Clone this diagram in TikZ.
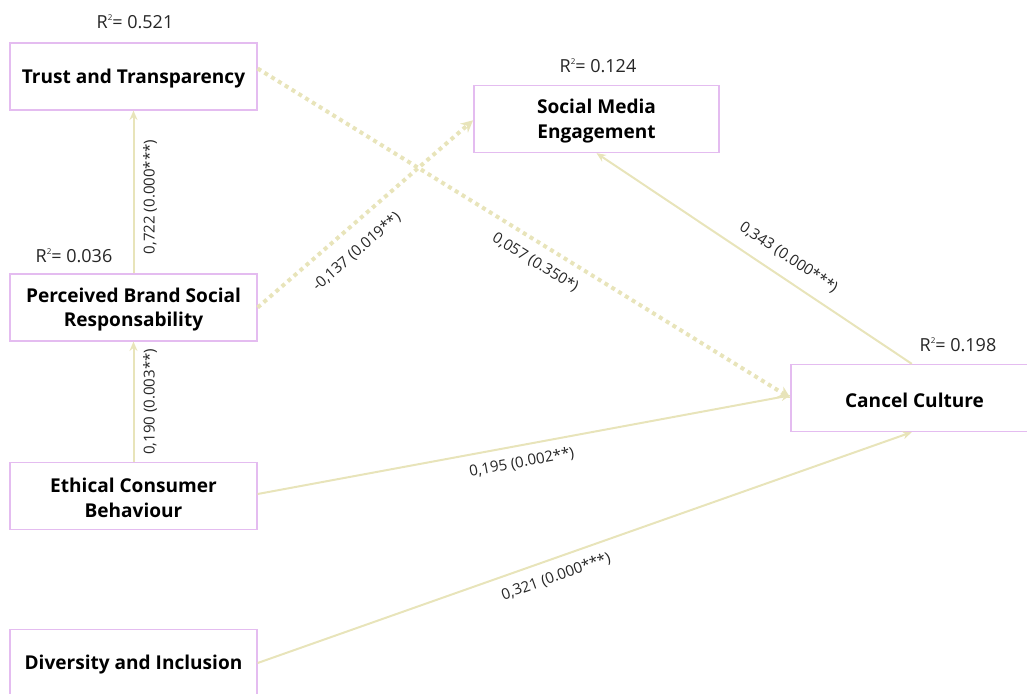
\documentclass[tikz,border=0pt]{standalone}
\usepackage{fontspec}
\setmainfont{Open Sans}
\usetikzlibrary{arrows.meta}
\definecolor{boxc}{RGB}{228,188,240}
\definecolor{linec}{RGB}{232,228,186}
\newcommand{\rsq}[1]{R\raisebox{0.8ex}{\fontsize{6pt}{6pt}\selectfont 2}= #1}
\begin{document}
\begin{tikzpicture}[x=0.75pt,y=-0.75pt,
  construct/.style={draw=boxc, line width=1.2pt, minimum width=185pt, minimum height=50pt},
  ntext/.style={align=center, inner sep=0pt, yshift=-1.5pt, font=\bfseries\fontsize{14.3}{18.5}\selectfont},
  rlab/.style={font=\fontsize{13.5}{15}\selectfont, text=black!85},
  lab/.style={font=\fontsize{11.3}{13}\selectfont, text=black!85, sloped, inner sep=3.5pt},
  solidarrow/.style={draw=linec, line width=1.5pt, -{Stealth[length=7pt,width=6pt]}},
  dotarrow/.style={draw=linec, line width=3pt, dash pattern=on 3pt off 3pt, -{Stealth[length=9pt,width=9pt]}}
]
\useasboundingbox (0,0) rectangle (1027,693);
\node[construct, label={[ntext]center:{Trust and Transparency}}] (tt) at (133.5,76.5) {};
\node[construct, label={[ntext]center:{Perceived Brand Social\\Responsability}}] (pbsr) at (133.5,307.5) {};
\node[construct, label={[ntext]center:{Ethical Consumer\\Behaviour}}] (ecb) at (133.5,496) {};
\node[construct, label={[ntext]center:{Diversity and Inclusion}}] (di) at (133.5,663) {};
\node[construct, minimum width=184pt, label={[ntext]center:{Social Media\\Engagement}}] (sme) at (596.5,119) {};
\node[construct, label={[ntext]center:{Cancel Culture}}] (cc) at (914.5,398) {};

\node[rlab] (r1) at (135,22) {\rsq{0.521}};
\node[rlab] (r2) at (598,66) {\rsq{0.124}};
\node[rlab] (r3) at (74,256) {\rsq{0.036}};
\node[rlab] (r4) at (958,345) {\rsq{0.198}};

\draw[solidarrow] (pbsr.north) -- (tt.south) node[lab, below=3pt, pos=0.47] {0,722 (0.000***)};
\draw[solidarrow] (ecb.north) -- (pbsr.south) node[lab, below=3pt, pos=0.5] {0,190 (0.003**)};
\draw[dotarrow] (pbsr.east) -- ([yshift=-1pt]sme.west) node[lab, below=7pt, pos=0.39] {-0,137 (0.019**)};
\draw[dotarrow] ([yshift=6pt]tt.east) -- (cc.west) node[lab, below=4pt, pos=0.54] {0,057 (0.350*)};
\draw[solidarrow] ([yshift=1.5pt]ecb.east) -- ([yshift=2pt]cc.west) node[lab, below=3.5pt, pos=0.49] {0,195 (0.002**)};
\draw[solidarrow] (di.east) -- ([xshift=-2pt]cc.south) node[lab, below=4pt, pos=0.447] {0,321 (0.000***)};
\draw[solidarrow, {Stealth[length=7pt,width=6pt]}-] (sme.south) -- ([xshift=-2pt]cc.north) node[lab, above=5.5pt, pos=0.574] {0,343 (0.000***)};
\end{tikzpicture}
\end{document}
